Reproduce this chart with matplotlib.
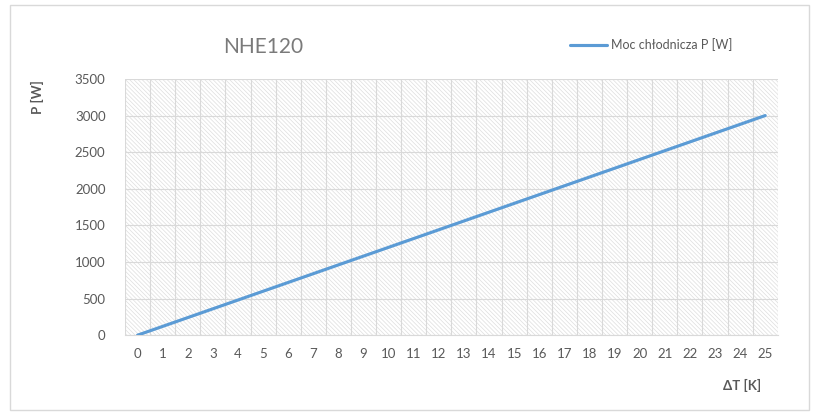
import numpy as np
import matplotlib.pyplot as plt
from matplotlib.patches import Rectangle

# data
delta_t = list(range(0, 26))
power = [0, 120, 240, 360, 480, 600, 720, 840, 960, 1080, 1200, 1320, 1440,
         1560, 1680, 1800, 1920, 2040, 2160, 2280, 2400, 2520, 2640, 2760,
         2880, 3000]
y_ticks = [0, 500, 1000, 1500, 2000, 2500, 3000, 3500]

plt.rcParams['font.family'] = ['Lato', 'DejaVu Sans']
plt.rcParams['hatch.linewidth'] = 0.5
plt.rcParams['hatch.color'] = '#dedede'

fig = plt.figure(figsize=(8.17, 4.2), dpi=100)

# outer frame of the chart
fig.patches.append(Rectangle((0.012, 0.024), 0.978, 0.964, transform=fig.transFigure,
                             fill=False, edgecolor='#d9d9d9', linewidth=1))

ax = fig.add_axes([0.153, 0.202, 0.799, 0.61])
ax.set_facecolor('white')

# hatched plot area
ax.add_patch(Rectangle((0, 0), 1, 1, transform=ax.transAxes, facecolor='white',
                       edgecolor='#dedede', hatch='\\' * 8, linewidth=0, zorder=0))

x = np.arange(len(delta_t))
ax.plot(x, power, color='#5B9BD5', linewidth=2.25, label='Moc chłodnicza P [W]',
        solid_capstyle='round', zorder=3)

ax.set_xlim(-0.5, len(delta_t) - 0.5)
ax.set_ylim(0, 3500)
ax.set_xticks(x)
ax.set_xticklabels([str(v) for v in delta_t])
ax.set_yticks(y_ticks)
ax.set_xticks(np.arange(-0.5, len(delta_t)), minor=True)

ax.grid(True, axis='y', which='major', color='#d9d9d9', linewidth=0.8, zorder=1)
ax.grid(True, axis='x', which='minor', color='#d9d9d9', linewidth=0.8, zorder=1)
ax.set_axisbelow(True)

for s in ['top', 'right', 'left']:
    ax.spines[s].set_visible(False)
ax.spines['bottom'].set_color('#d9d9d9')
ax.tick_params(axis='both', which='both', length=0, labelsize=9.5, colors='#595959')
ax.tick_params(axis='x', pad=9)
ax.tick_params(axis='y', pad=14)

fig.text(0.322, 0.888, 'NHE120', fontsize=15, color='#7a7a7a', ha='center', va='center')
fig.text(0.046, 0.77, 'P [W]', fontsize=9.5, fontweight='bold', color='#595959',
         rotation=90, ha='center', va='center')
fig.text(0.908, 0.083, 'ΔT [K]', fontsize=9.5, fontweight='bold', color='#595959',
         ha='center', va='center')

leg = fig.legend(loc='center', bbox_to_anchor=(0.797, 0.893), frameon=False,
                 fontsize=9, handlelength=3, handletextpad=0.3)
for t in leg.get_texts():
    t.set_color('#595959')

fig.savefig('out.png', dpi=100, facecolor='white')
